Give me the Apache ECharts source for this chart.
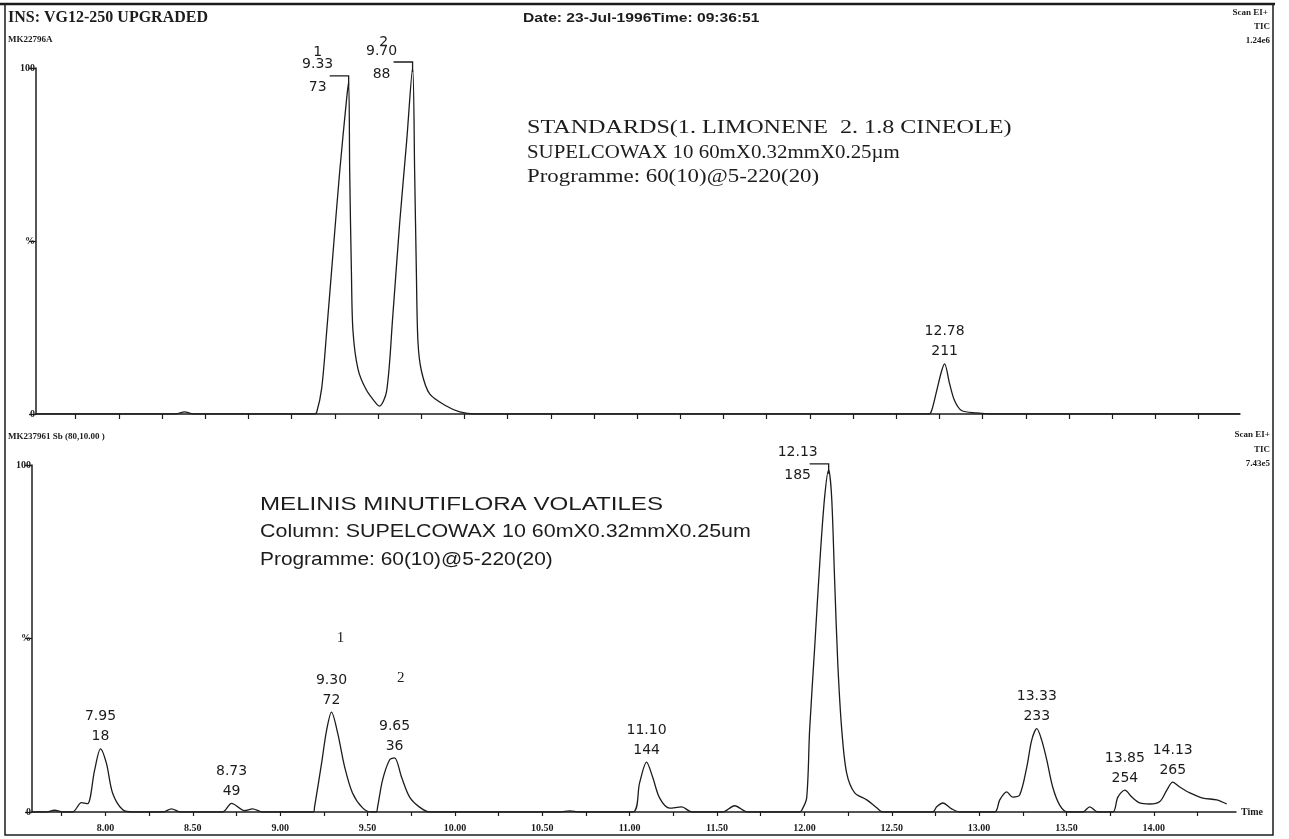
<!DOCTYPE html>
<html><head><meta charset="utf-8">
<script src="https://cdn.jsdelivr.net/npm/echarts/dist/echarts.min.js"></script>
<style>html,body{margin:0;padding:0;background:#fff}#c{width:1289px;height:839px}</style>
</head><body><div id="c"></div>
<script>
// ---------- DATA ----------
// Upper chromatogram (standards): retention time (min) and relative intensity (%)
const topTime = [7.52, 8.33, 8.38, 8.43, 9.13, 9.145, 9.174, 9.203, 9.237, 9.278, 9.318, 9.33, 9.336, 9.346, 9.355, 9.384, 9.432, 9.49, 9.509, 9.55, 9.585, 9.625, 9.666, 9.70, 9.712, 9.722, 9.731, 9.751, 9.799, 9.896, 9.973, 10.06, 12.69, 12.705, 12.734, 12.763, 12.78, 12.809, 12.838, 12.878, 12.965, 13.05, 14.49];
const topIntensity = [0, 0, 0.6, 0, 0, 0.5, 7.5, 24, 45, 70, 91, 96, 70, 41, 24, 13, 7, 3, 2.3, 6.7, 28, 55, 79, 100, 70, 41, 21, 12.5, 5.8, 2.3, 0.6, 0, 0, 1, 6.7, 12.5, 14.5, 8.7, 3.8, 1, 0.3, 0, 0];

// Lower chromatogram (Melinis minutiflora volatiles)
const bottomTime = [7.58, 7.66, 7.709, 7.76, 7.812, 7.863, 7.898, 7.938, 7.972, 8.006, 8.041, 8.098, 8.155, 8.33, 8.378, 8.43, 8.67, 8.722, 8.796, 8.842, 8.9, 9.19, 9.197, 9.237, 9.266, 9.294, 9.329, 9.369, 9.414, 9.472, 9.523, 9.55, 9.558, 9.586, 9.626, 9.655, 9.695, 9.741, 9.798, 9.855, 10.6, 10.657, 10.71, 11.017, 11.057, 11.097, 11.132, 11.172, 11.229, 11.298, 11.355, 11.532, 11.601, 11.675, 11.973, 11.985, 12.013, 12.030, 12.059, 12.088, 12.116, 12.139, 12.156, 12.173, 12.191, 12.214, 12.242, 12.288, 12.357, 12.414, 12.448, 12.734, 12.757, 12.792, 12.843, 12.889, 13.089, 13.118, 13.158, 13.192, 13.232, 13.273, 13.301, 13.33, 13.358, 13.387, 13.421, 13.461, 13.507, 13.593, 13.633, 13.679, 13.765, 13.794, 13.834, 13.874, 13.919, 13.977, 14.034, 14.074, 14.108, 14.148, 14.206, 14.28, 14.36, 14.417];
const bottomIntensity = [0, 0, 0.5, 0, 0, 2.7, 2.4, 12, 18.2, 14, 5.5, 0.7, 0, 0, 0.9, 0, 0, 2.5, 0.4, 0.9, 0, 0, 1.5, 14, 23.6, 28.8, 22.8, 13, 5.5, 1.2, 0, 0, 1.5, 9.2, 15, 15.6, 10, 4.3, 1.4, 0, 0, 0.3, 0, 0, 8.4, 14.4, 10, 4, 1.1, 1.5, 0, 0, 1.8, 0, 0, 0.5, 4, 23.6, 47.5, 71.7, 90.8, 98.6, 90.8, 67, 43, 23.6, 11.2, 5.5, 3.5, 1.2, 0, 0, 1.5, 2.6, 0.9, 0, 0, 3.5, 5.8, 4.3, 4.9, 13, 20.7, 24, 20.7, 15, 7.2, 2, 0, 0, 1.5, 0, 0, 4.3, 6.3, 4.3, 2.6, 2.3, 3, 6.3, 8.6, 7.2, 5.5, 4, 3.5, 2.3];

// Peak annotations (apex time, apex %, retention-time label, scan label, bracketed?)
const topPeakTime = [9.33, 9.70, 12.78];
const topPeakHeight = [96, 100, 14.5];
const topPeakRT = ['9.33', '9.70', '12.78'];
const topPeakScan = ['73', '88', '211'];
const topPeakBracket = [1, 1, 0];

const bottomPeakTime = [7.972, 8.722, 9.294, 9.655, 11.097, 12.139, 13.33, 13.834, 14.108];
const bottomPeakHeight = [18.2, 2.5, 28.8, 15.6, 14.4, 98.6, 24, 6.3, 8.6];
const bottomPeakRT = ['7.95', '8.73', '9.30', '9.65', '11.10', '12.13', '13.33', '13.85', '14.13'];
const bottomPeakScan = ['18', '49', '72', '36', '144', '185', '233', '254', '265'];
const bottomPeakBracket = [0, 0, 0, 0, 0, 1, 0, 0, 0];

// Compound numbers written on the chart
const topNoteTime = [9.151, 9.533];
const topNotePct = [104.6, 107.5];
const topNoteText = ['1', '2'];
const bottomNoteTime = [9.345, 9.69];
const bottomNotePct = [50, 38.5];
const bottomNoteText = ['1', '2'];

// Axis ticks / labels
const xLabelValues = [8.0, 8.5, 9.0, 9.5, 10.0, 10.5, 11.0, 11.5, 12.0, 12.5, 13.0, 13.5, 14.0];
const xTickValues = [7.75, 8.0, 8.25, 8.5, 8.75, 9.0, 9.25, 9.5, 9.75, 10.0, 10.25, 10.5, 10.75, 11.0, 11.25, 11.5, 11.75, 12.0, 12.25, 12.5, 12.75, 13.0, 13.25, 13.5, 13.75, 14.0, 14.25];
const yLabelValues = [0, 50, 100];
const yLabelText = ['0', '%', '100'];

// ---------- CHART ----------
const INK = '#1c1c1c';
const chart = echarts.init(document.getElementById('c'), null, {renderer: 'canvas'});

function pairs(xs, ys) { return xs.map((x, i) => [x, ys[i]]); }

function yAxisDef(gi) {
  return {
    type: 'value', gridIndex: gi, min: 0, max: 100,
    axisLine: {show: true, lineStyle: {color: INK, width: 1.5}},
    axisTick: {show: true, customValues: yLabelValues, length: 7, lineStyle: {color: INK, width: 1.3}},
    axisLabel: {customValues: yLabelValues, formatter: v => yLabelText[yLabelValues.indexOf(v)],
      margin: 1, fontSize: 10, fontWeight: 'bold', fontFamily: 'Liberation Serif', color: INK},
    splitLine: {show: false}
  };
}

function peakLabels(gi, times, heights, rts, scans, brackets) {
  return {
    type: 'custom', xAxisIndex: gi, yAxisIndex: gi, clip: false, silent: true, z: 5,
    data: times.map((t, i) => [t, heights[i]]),
    encode: {x: 0, y: 1},
    renderItem: function (params, api) {
      const i = params.dataIndex;
      const p = api.coord([api.value(0), api.value(1)]);
      const font = '14px "DejaVu Sans"';
      const kids = [];
      if (brackets[i]) {
        const by = p[1] - 6, lx = p[0] - 31;
        kids.push({type: 'text', x: lx, y: by - 11, style: {text: rts[i], font, fill: INK, align: 'center', verticalAlign: 'middle'}});
        kids.push({type: 'text', x: lx, y: by + 12, style: {text: scans[i], font, fill: INK, align: 'center', verticalAlign: 'middle'}});
        kids.push({type: 'polyline', shape: {points: [[p[0] - 19, by], [p[0], by], [p[0], p[1] + 4]]},
          style: {stroke: INK, lineWidth: 1.3, fill: null}});
      } else {
        kids.push({type: 'text', x: p[0], y: p[1] - 32, style: {text: rts[i], font, fill: INK, align: 'center', verticalAlign: 'middle'}});
        kids.push({type: 'text', x: p[0], y: p[1] - 12, style: {text: scans[i], font, fill: INK, align: 'center', verticalAlign: 'middle'}});
      }
      return {type: 'group', children: kids};
    }
  };
}

function notes(gi, times, pcts, texts, font) {
  return {
    type: 'custom', xAxisIndex: gi, yAxisIndex: gi, clip: false, silent: true, z: 5,
    data: times.map((t, i) => [t, pcts[i]]),
    encode: {x: 0, y: 1},
    renderItem: function (params, api) {
      const p = api.coord([api.value(0), api.value(1)]);
      return {type: 'text', x: p[0], y: p[1], style: {text: texts[params.dataIndex], font, fill: INK, align: 'center', verticalAlign: 'middle'}};
    }
  };
}

function txt(x, y, text, font, opts) {
  return Object.assign({type: 'text', x, y, silent: true, z: 10,
    style: {text, font, fill: INK, align: 'left', verticalAlign: 'middle'}}, opts || {});
}
function rtxt(x, y, text, font) {
  return {type: 'text', x, y, silent: true, z: 10,
    style: {text, font, fill: INK, align: 'right', verticalAlign: 'middle'}};
}

const smallFont = 'bold 9px "Liberation Serif"';
const topBlockFont = '18px "Liberation Serif"';
const botBlockFont = '18px "Liberation Sans"';

const option = {
  backgroundColor: '#ffffff',
  animation: false,
  grid: [
    {left: 36, top: 68, width: 1204, height: 346, containLabel: false},
    {left: 32, top: 465, width: 1204, height: 347, containLabel: false}
  ],
  xAxis: [
    {type: 'value', gridIndex: 0, min: 7.52, max: 14.49,
      axisLine: {lineStyle: {color: INK, width: 1.5}},
      axisTick: {show: true, customValues: xTickValues, length: 5, lineStyle: {color: INK, width: 1.2}},
      axisLabel: {show: false}, splitLine: {show: false}},
    {type: 'value', gridIndex: 1, min: 7.58, max: 14.47,
      axisLine: {lineStyle: {color: INK, width: 1.5}},
      axisTick: {show: true, customValues: xTickValues, length: 4, lineStyle: {color: INK, width: 1.2}},
      axisLabel: {customValues: xLabelValues, formatter: v => v.toFixed(2), margin: 11,
        fontSize: 10, fontWeight: 'bold', fontFamily: 'Liberation Serif', color: INK},
      splitLine: {show: false},
      name: 'Time', nameLocation: 'end', nameGap: 5,
      nameTextStyle: {fontSize: 10, fontWeight: 'bold', fontFamily: 'Liberation Serif', color: INK, padding: [6, 0, 0, 0]}}
  ],
  yAxis: [yAxisDef(0), yAxisDef(1)],
  series: [
    {type: 'line', xAxisIndex: 0, yAxisIndex: 0, data: pairs(topTime, topIntensity),
      showSymbol: false, smooth: 0.3, lineStyle: {color: INK, width: 1.3}, silent: true},
    {type: 'line', xAxisIndex: 1, yAxisIndex: 1, data: pairs(bottomTime, bottomIntensity),
      showSymbol: false, smooth: 0.3, lineStyle: {color: INK, width: 1.3}, silent: true},
    peakLabels(0, topPeakTime, topPeakHeight, topPeakRT, topPeakScan, topPeakBracket),
    peakLabels(1, bottomPeakTime, bottomPeakHeight, bottomPeakRT, bottomPeakScan, bottomPeakBracket),
    notes(0, topNoteTime, topNotePct, topNoteText, '14px "DejaVu Sans"'),
    notes(1, bottomNoteTime, bottomNotePct, bottomNoteText, '15px "Liberation Serif"')
  ],
  graphic: [
    {type: 'rect', silent: true, shape: {x: 5, y: 4, width: 1268, height: 831}, style: {fill: null, stroke: INK, lineWidth: 1.5}},
    {type: 'line', silent: true, shape: {x1: 0, y1: 4, x2: 1275, y2: 4}, style: {stroke: INK, lineWidth: 2.5}},
    txt(8, 18, 'INS: VG12-250 UPGRADED', 'bold 16px "Liberation Serif"'),
    txt(8, 40, 'MK22796A', smallFont),
    txt(523, 18, 'Date: 23-Jul-1996Time: 09:36:51', 'bold 13px "Liberation Sans"', {scaleX: 1.2}),
    rtxt(1268, 13, 'Scan EI+', smallFont),
    rtxt(1270, 27, 'TIC', smallFont),
    rtxt(1270, 41, '1.24e6', smallFont),
    txt(8, 437, 'MK237961 Sb (80,10.00 )', smallFont),
    rtxt(1270, 435, 'Scan EI+', smallFont),
    rtxt(1270, 450, 'TIC', smallFont),
    rtxt(1270, 464, '7.43e5', smallFont),
    txt(527, 128, 'STANDARDS(1. LIMONENE  2. 1.8 CINEOLE)', topBlockFont, {scaleX: 1.34}),
    txt(527, 153, 'SUPELCOWAX 10 60mX0.32mmX0.25\u00b5m', topBlockFont, {scaleX: 1.16}),
    txt(527, 177, 'Programme: 60(10)@5-220(20)', topBlockFont, {scaleX: 1.27}),
    txt(260, 505, 'MELINIS MINUTIFLORA VOLATILES', botBlockFont, {scaleX: 1.34}),
    txt(260, 532, 'Column: SUPELCOWAX 10 60mX0.32mmX0.25um', botBlockFont, {scaleX: 1.19}),
    txt(260, 560, 'Programme: 60(10)@5-220(20)', botBlockFont, {scaleX: 1.16})
  ]
};
chart.setOption(option);
</script>
</body></html>
